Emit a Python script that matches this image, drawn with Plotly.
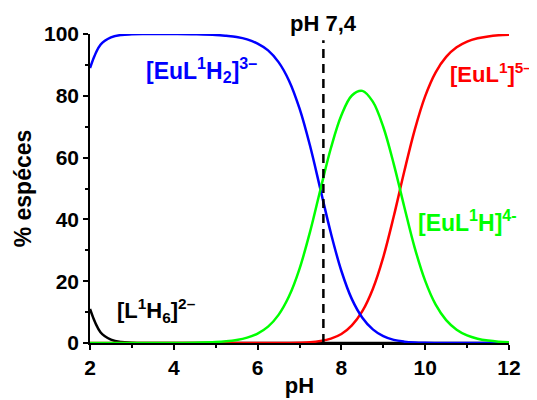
import plotly.graph_objects as go

# speciation data (pH vs % species)
ph = [2.0, 2.25, 2.5, 2.75, 3.0, 3.25, 3.5, 4.0, 4.5, 5.0, 5.25, 5.5, 5.75,
      6.0, 6.25, 6.5, 6.75, 7.0, 7.25, 7.5, 7.75, 8.0, 8.25, 8.5, 8.75,
      9.0, 9.25, 9.5, 9.75, 10.0, 10.25, 10.5, 10.75, 11.0, 11.25, 11.5,
      11.75, 12.0]

l1h6 = [11.0, 3.5, 1.1, 0.3, 0.1, 0, 0, 0, 0, 0, 0, 0, 0,
        0, 0, 0, 0, 0, 0, 0, 0, 0, 0, 0, 0,
        0, 0, 0, 0, 0, 0, 0, 0, 0, 0, 0, 0, 0]

eul1h2 = [89.0, 96.5, 98.9, 99.7, 99.9, 100, 100, 99.97, 99.9, 99.7, 99.4, 99.0, 98.25,
          96.9, 94.7, 90.9, 84.9, 75.9, 63.9, 49.7, 35.5, 23.3, 14.2, 8.2, 4.4,
          2.2, 1.0, 0.44, 0.17, 0.06, 0.02, 0.01, 0, 0, 0, 0, 0, 0]

eul1h = [0, 0, 0, 0, 0, 0, 0, 0.03, 0.1, 0.3, 0.56, 1.0, 1.75,
         3.06, 5.3, 9.1, 15.1, 24.0, 35.9, 49.7, 63.1, 73.7, 80.1, 81.6, 78.1,
         69.9, 57.9, 44.1, 30.8, 20.1, 12.4, 7.4, 4.3, 2.45, 1.4, 0.8, 0.44, 0.25]

eul1 = [0, 0, 0, 0, 0, 0, 0, 0, 0, 0, 0, 0, 0,
        0, 0, 0.01, 0.03, 0.1, 0.25, 0.63, 1.4, 2.9, 5.7, 10.3, 17.5,
        27.8, 41.0, 55.5, 69.0, 79.9, 87.6, 92.6, 95.7, 97.55, 98.6, 99.2, 99.56, 99.75]

ph_marker = 7.57
FONT = "Liberation Sans, Arial, sans-serif"

fig = go.Figure()
series = [(l1h6, "black"), (eul1, "#ff0000"), (eul1h2, "#0000ff"), (eul1h, "#00ff00")]
for ys, col in series:
    fig.add_trace(go.Scatter(x=ph, y=ys, mode="lines", line=dict(color=col, width=2.5, shape="spline"),
                             showlegend=False, hoverinfo="skip"))

fig.add_shape(type="line", x0=ph_marker, x1=ph_marker, y0=0, y1=98, xref="x", yref="y",
              line=dict(color="black", width=2.5, dash="9px,6px"))

labels = [
    ("<b>[EuL<sup>1</sup>H<sub>2</sub>]<sup>3–</sup></b>", 3.3, 88.5, "#0000ff", 23),
    ("<b>[EuL<sup>1</sup>]<sup>5–</sup></b>", 10.55, 87.5, "#ff0000", 22),
    ("<b>[EuL<sup>1</sup>H]<sup>4-</sup></b>", 9.77, 39.5, "#00ff00", 23),
    ("<b>[L<sup>1</sup>H<sub>6</sub>]<sup>2–</sup></b>", 2.6, 10.5, "black", 22),
]
for txt, x, y, col, sz in labels:
    fig.add_annotation(x=x, y=y, text=txt, showarrow=False, xanchor="left", yanchor="middle",
                       font=dict(family=FONT, size=sz, color=col))
# marker label sits above the plot area, so it is placed in paper units vertically
fig.add_annotation(x=ph_marker, y=1.035, xref="x", yref="paper", text="<b>pH 7,4</b>",
                   showarrow=False, xanchor="center", yanchor="middle",
                   font=dict(family=FONT, size=22, color="black"))

axis_common = dict(showline=True, linecolor="black", linewidth=1.5, ticks="outside", ticklen=5,
                   tickwidth=1.5, tickcolor="black", showgrid=False, zeroline=False, automargin=False,
                   tickfont=dict(family=FONT, size=21, color="black", weight="bold"))
fig.update_xaxes(range=[2, 12], tick0=2, dtick=2,
                 minor=dict(ticks="outside", ticklen=3, dtick=1, tickcolor="black", showgrid=False),
                 title=dict(text="<b>pH</b>", font=dict(family=FONT, size=22, color="black"), standoff=0),
                 **axis_common)
fig.update_yaxes(range=[0, 100], tick0=0, dtick=20,
                 minor=dict(ticks="outside", ticklen=3, dtick=10, tickcolor="black", showgrid=False),
                 title=dict(text="<b>% espéces</b>", font=dict(family=FONT, size=23, color="black"), standoff=6),
                 **axis_common)

# the page body adds an 8px offset, so the figure is sized/margined to compensate
fig.update_layout(width=529, height=392, margin=dict(l=82, r=28, t=26, b=57),
                  plot_bgcolor="white", paper_bgcolor="white")

fig.write_html("out.html")
